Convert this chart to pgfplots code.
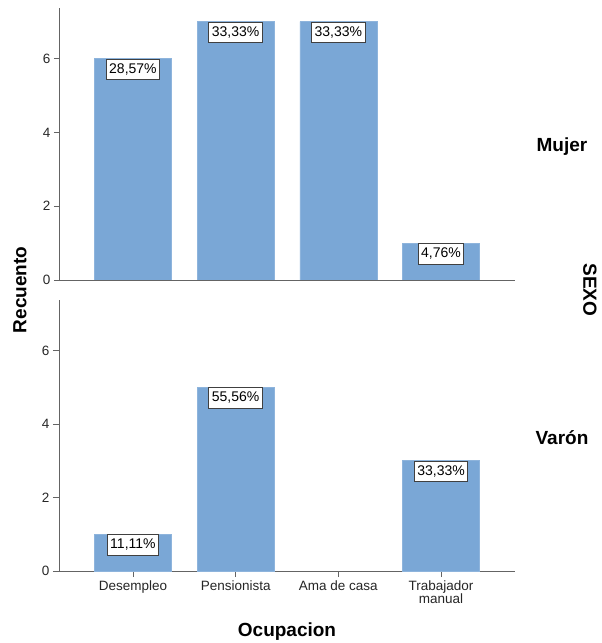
\documentclass[border=0pt]{standalone}
\usepackage{fontspec}
\setmainfont{Liberation Sans}
\usepackage{pgfplots}
\pgfplotsset{compat=1.18}
\definecolor{barblue}{RGB}{122,167,214}
\definecolor{axisgray}{RGB}{100,100,100}
\begin{document}
\begin{tikzpicture}[x=1pt,y=1pt]
\useasboundingbox (-59,-72) rectangle (543,571);
\pgfplotsset{
  panel/.style={
    scale only axis, width=456pt,
    xmin=-0.72, xmax=3.72, ymin=0, ymax=7.37,
    axis x line*=bottom, axis y line*=left,
    axis line style={axisgray, line width=0.8pt},
    every tick/.style={axisgray, line width=0.8pt},
    tick align=outside, major tick length=5pt,
    ytick={0,2,4,6},
    tick label style={font=\fontsize{13.5}{15}\selectfont, text=black!85},
    /pgf/number format/assume math mode=true,
    ybar, bar width=77pt,
    nodes near coords={\pgfplotspointmeta},
    point meta=explicit symbolic,
    every node near coord/.append style={anchor=north, draw=black!75, fill=white,
      line width=0.9pt, font=\fontsize{14}{16}\selectfont, inner xsep=3pt, inner ysep=3.5pt,
      text height=10.5pt, text depth=3pt},
  }
}
\begin{axis}[panel, height=272pt, at={(0pt,291pt)}, anchor=south west, xtick=\empty]
\addplot[fill=barblue, draw=barblue!85!white] coordinates {
  (0,6) [28,57\%]
  (1,7) [33,33\%]
  (2,7) [33,33\%]
  (3,1) [4,76\%]
};
\end{axis}
\begin{axis}[panel, height=271pt, at={(0pt,0pt)}, anchor=south west,
  xtick={0,1,2,3},
  xticklabels={Desempleo,Pensionista,Ama de casa,{Trabajador\\manual}},
  xticklabel style={align=center, font=\fontsize{13.5}{13}\selectfont},
  major tick length=6pt]
\addplot[fill=barblue, draw=barblue!85!white] coordinates {
  (0,1) [11,11\%]
  (1,5) [55,56\%]
  (3,3) [33,33\%]
};
\end{axis}
\node[rotate=90, font=\bfseries\fontsize{19}{21}\selectfont] at (-39,281) {Recuento};
\node[rotate=-90, font=\bfseries\fontsize{19}{21}\selectfont] at (531,281) {SEXO};
\node[font=\bfseries\fontsize{19}{21}\selectfont] at (503,424) {Mujer};
\node[font=\bfseries\fontsize{19}{21}\selectfont] at (503,133) {Varón};
\node[font=\bfseries\fontsize{19}{21}\selectfont] at (228,-61) {Ocupacion};
\end{tikzpicture}
\end{document}
